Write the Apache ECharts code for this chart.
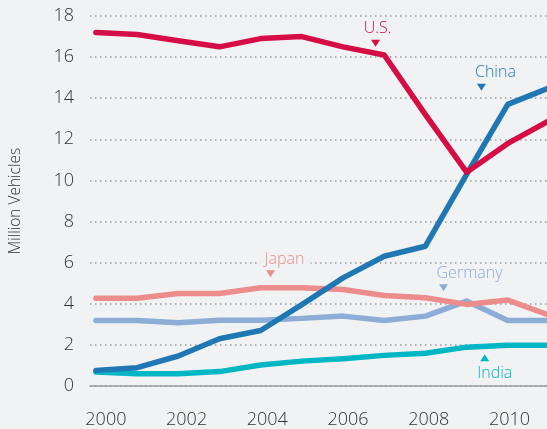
<!DOCTYPE html>
<html>
<head>
<meta charset="utf-8">
<script src="https://cdn.jsdelivr.net/npm/echarts@6/dist/echarts.min.js"></script>
<style>
  html, body { margin: 0; padding: 0; background: #f1f2f4; }
  #chart { width: 547px; height: 429px; }
</style>
</head>
<body>
<div id="chart"></div>
<script>
// data (million vehicles)
const years = [2000, 2001, 2002, 2003, 2004, 2005, 2006, 2007, 2008, 2009, 2010, 2011];
const us = [17.2, 17.1, 16.8, 16.5, 16.9, 17.0, 16.5, 16.1, 13.2, 10.4, 11.8, 12.9];
const china = [0.76, 0.89, 1.46, 2.3, 2.7, 3.96, 5.26, 6.31, 6.8, 10.3, 13.7, 14.5];
const japan = [4.27, 4.27, 4.5, 4.5, 4.78, 4.78, 4.69, 4.4, 4.29, 3.97, 4.18, 3.45];
const germany = [3.19, 3.19, 3.08, 3.2, 3.2, 3.29, 3.4, 3.19, 3.4, 4.13, 3.19, 3.19];
const india = [0.68, 0.6, 0.6, 0.7, 1.02, 1.21, 1.33, 1.49, 1.59, 1.89, 1.98, 1.98];
const yTicks = [0, 2, 4, 6, 8, 10, 12, 14, 16, 18];
const xTicks = [2000, 2002, 2004, 2006, 2008, 2010];

const bg = '#f1f2f4';
const font = '"Open Sans", "Noto Sans", sans-serif';

const chart = echarts.init(document.getElementById('chart'));

const pair = (vals) => years.map((y, i) => [y, vals[i]]);

// little triangle + name tag for each line
const tag = (name, coord, color, up, dx) => ({
    symbol: 'triangle',
    symbolSize: [9, 7],
    symbolRotate: up ? 0 : 180,
    silent: true,
    label: {
        show: true,
        position: up ? 'bottom' : 'top',
        distance: up ? 4 : 3,
        offset: [dx, 0],
        color: color,
        fontFamily: font,
        fontSize: 16,
        fontWeight: 300,
        backgroundColor: bg,
        padding: [0, 6],
        formatter: name
    },
    itemStyle: { color: color },
    data: [{ coord: coord }]
});

const line = (name, vals, color, mark) => ({
    name,
    type: 'line',
    xAxisIndex: 0,
    yAxisIndex: 0,
    data: pair(vals),
    showSymbol: false,
    lineStyle: { color, width: 5.5, cap: 'round', join: 'round' },
    itemStyle: { color },
    z: 3,
    markPoint: mark
});

const option = {
    backgroundColor: bg,
    animation: false,
    textStyle: { fontFamily: font },
    grid: { left: 81, right: 0, top: 16, bottom: 42.3 },
    xAxis: [
        {
            // data axis: 42 px per year, year 2000 at x = 87
            type: 'value',
            min: 1999.857,
            max: 2010.952,
            axisLine: { show: true, lineStyle: { color: '#9a9a9a', width: 1.5 } },
            axisTick: { show: false },
            axisLabel: { show: false },
            splitLine: { show: false }
        },
        {
            // label axis: year labels sit at a slightly different pitch in the original
            type: 'value',
            position: 'bottom',
            min: 1999.606,
            max: 2010.931,
            axisLine: { show: false },
            axisTick: { show: false },
            splitLine: { show: false },
            axisLabel: {
                customValues: xTicks,
                margin: 25,
                fontSize: 18,
                fontWeight: 300,
                color: '#333',
                formatter: (v) => String(v)
            }
        }
    ],
    yAxis: {
        type: 'value',
        min: yTicks[0],
        max: yTicks[yTicks.length - 1],
        interval: 2,
        name: 'Million Vehicles',
        nameLocation: 'middle',
        nameRotate: 90,
        nameGap: 66,
        nameTextStyle: { fontSize: 15.5, fontWeight: 300, color: '#333', fontFamily: font },
        axisLine: { show: false },
        axisTick: { show: false },
        axisLabel: { fontSize: 18, fontWeight: 300, color: '#333', margin: 16 },
        splitLine: { lineStyle: { color: '#9a9a9a', width: 1.5, type: [1.5, 3.5] } }
    },
    series: [
        line('India', india, '#00b7c3', tag('India', [2009.44, 1.38], '#00b7c3', true, 10)),
        line('Germany', germany, '#8badd6', tag('Germany', [2008.44, 4.78], '#8badd6', false, 26)),
        line('Japan', japan, '#ec8d8c', tag('Japan', [2004.24, 5.46], '#ec8d8c', false, 14)),
        line('China', china, '#1f78b4', tag('China', [2009.36, 14.53], '#1f78b4', false, 14)),
        line('U.S.', us, '#d60d45', tag('U.S.', [2006.79, 16.68], '#d60d45', false, 2))
    ]
};

chart.setOption(option);
window.addEventListener('resize', () => chart.resize());
</script>
</body>
</html>
